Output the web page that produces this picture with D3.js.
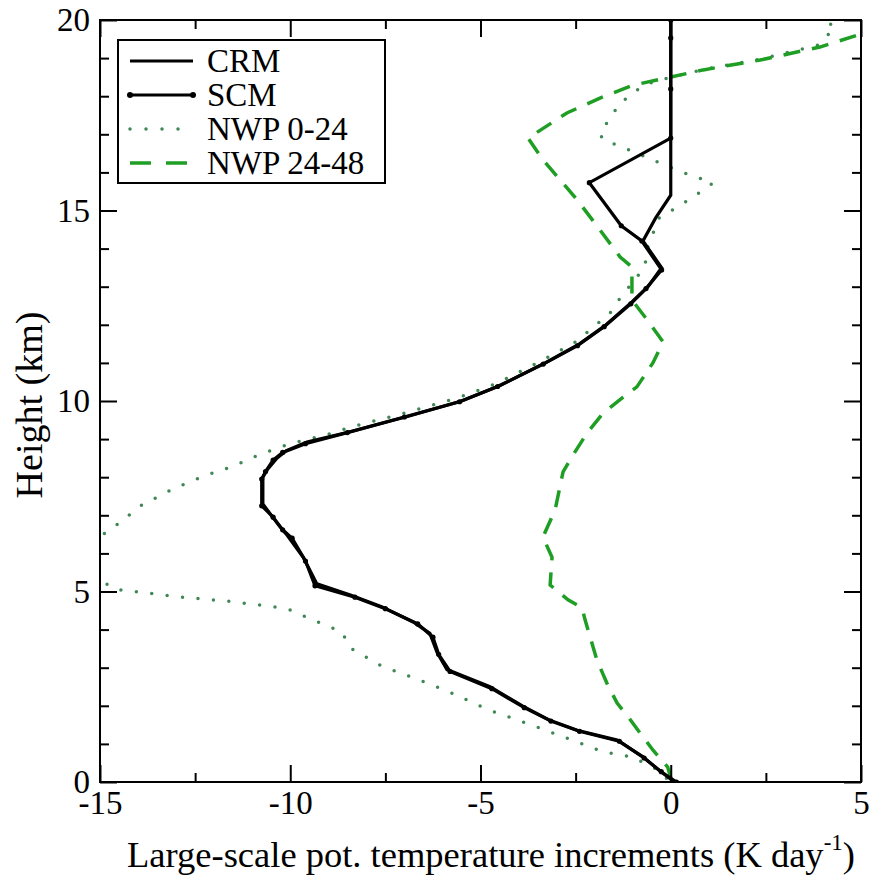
<!DOCTYPE html>
<html>
<head>
<meta charset="utf-8">
<script src="https://cdn.jsdelivr.net/npm/d3@7"></script>
<style>
  body { margin: 0; background: #fff; }
  svg { display: block; }
  text { font-family: 'Liberation Serif', 'Times New Roman', serif; fill: #000; }
  .domain { display: none; }
</style>
</head>
<body>
<svg width="873" height="879"></svg>
<script>
// profiles: [increment (K/day), height (km)]
var crm = [
  [0, 20], [0, 15.4], [-0.4, 14.8], [-0.73, 14.2], [-0.24, 13.5],
  [-0.6, 13.0], [-1.02, 12.6], [-1.7, 12.0], [-2.4, 11.5], [-3.3, 11.0],
  [-4.5, 10.4], [-5.5, 10.0], [-6.9, 9.6], [-8.4, 9.2], [-9.56, 8.92],
  [-10.1, 8.7], [-10.35, 8.5], [-10.6, 8.2], [-10.72, 8.0], [-10.72, 7.3],
  [-10.5, 7.0], [-10.27, 6.7], [-10.1, 6.5], [-9.66, 5.9], [-9.3, 5.2],
  [-8.4, 4.9], [-7.6, 4.6], [-6.77, 4.2], [-6.33, 3.9], [-6.14, 3.4],
  [-5.88, 2.95], [-4.75, 2.5], [-3.9, 2.0], [-3.2, 1.63], [-2.46, 1.36],
  [-1.41, 1.1], [-0.73, 0.66], [-0.3, 0.3], [0.1, 0]
];
var scm = [
  [0, 20], [0, 19.53], [0, 18.19], [0, 16.9], [-2.14, 15.73],
  [-1.3, 14.6], [-0.76, 14.2], [-0.24, 13.44], [-0.65, 12.95], [-1.05, 12.55],
  [-1.75, 11.95], [-2.45, 11.45], [-3.35, 10.97], [-4.55, 10.38], [-5.55, 9.98],
  [-7.0, 9.58], [-8.5, 9.17], [-9.6, 8.88], [-10.2, 8.65], [-10.45, 8.45],
  [-10.65, 8.15], [-10.75, 7.95], [-10.75, 7.25], [-10.45, 6.95], [-10.2, 6.62],
  [-9.95, 6.4], [-9.6, 5.8], [-9.35, 5.15], [-8.3, 4.85], [-7.5, 4.55],
  [-6.65, 4.15], [-6.25, 3.8], [-6.1, 3.35], [-5.8, 2.9], [-4.7, 2.45],
  [-3.85, 1.95], [-3.15, 1.6], [-2.4, 1.33], [-1.35, 1.07], [-0.7, 0.63],
  [-0.25, 0.27], [0.15, 0]
];
var nwp024 = [
  [3.5, 20.3], [4.32, 19.82], [3.9, 19.35], [2.35, 18.97], [0.85, 18.7],
  [-0.1, 18.47], [-0.7, 18.3], [-1.33, 17.82], [-1.86, 17.03], [-1.78, 16.85],
  [-1.33, 16.69], [-0.49, 16.33], [0.32, 16.0], [1.11, 15.72], [0.51, 15.3],
  [-0.31, 14.8], [-0.62, 14.0], [-0.68, 13.52], [-1.33, 12.7], [-1.6, 12.3],
  [-2.5, 11.55], [-3.5, 11.0], [-4.6, 10.45], [-5.6, 10.08], [-7.0, 9.68],
  [-8.4, 9.32], [-9.09, 9.1], [-9.93, 8.9], [-10.72, 8.63], [-11.5, 8.29],
  [-12.27, 8.03], [-13.08, 7.69], [-13.9, 7.27], [-14.66, 6.67], [-15.03, 6.43],
  [-15.6, 5.7], [-14.6, 5.05], [-14.16, 5.01], [-12.92, 4.86], [-11.69, 4.75],
  [-10.45, 4.6], [-10.06, 4.54], [-9.4, 4.25], [-8.64, 3.94], [-8.43, 3.52],
  [-7.59, 3.04], [-6.83, 2.76], [-5.88, 2.39], [-4.78, 1.89], [-3.59, 1.47],
  [-2.67, 1.13], [-1.78, 0.79], [-1.02, 0.66], [-0.4, 0.35], [0, 0]
];
var nwp2448 = [
  [5.6, 19.8], [4.9, 19.6], [3.92, 19.29], [2.35, 18.95], [0.85, 18.69],
  [-0.1, 18.48], [-0.99, 18.29], [-1.86, 17.95], [-2.73, 17.56], [-3.75, 16.9],
  [-3.36, 16.33], [-2.46, 15.28], [-1.86, 14.49], [-1.33, 13.78], [-1.02, 13.52],
  [-1.02, 12.65], [-0.62, 12.13], [-0.2, 11.55], [-0.47, 11.0], [-0.89, 10.37],
  [-1.25, 10.1], [-1.78, 9.68], [-2.2, 9.16], [-2.52, 8.66], [-2.83, 8.14],
  [-3.04, 7.14], [-3.36, 6.43], [-3.12, 5.9], [-3.17, 5.17], [-2.7, 4.78],
  [-2.33, 4.57], [-2.25, 4.25], [-1.94, 3.2], [-1.68, 2.6], [-1.41, 2.07],
  [-1.12, 1.71], [-0.81, 1.29], [-0.47, 0.84], [-0.08, 0.39], [0.03, 0]
];
var seriesNames = ['CRM', 'SCM', 'NWP 0-24', 'NWP 24-48'];
var xMajor = [-15, -10, -5, 0, 5];
var xMinor = [-12.5, -7.5, -2.5, 2.5];
var yMajor = [0, 5, 10, 15, 20];
var yMinor = [1, 2, 3, 4, 6, 7, 8, 9, 11, 12, 13, 14, 16, 17, 18, 19];

var svg = d3.select('svg');
var pL = 100, pR = 861, pT = 20, pB = 782;

var x = d3.scaleLinear().domain([-15, 5]).range([pL, pR]);
var y = d3.scaleLinear().domain([0, 20]).range([pB, pT]);

var green = '#1f9e24';
var dotGreen = '#3f8753';

svg.append('clipPath').attr('id', 'plot')
  .append('rect')
  .attr('x', pL).attr('y', pT)
  .attr('width', pR - pL).attr('height', pB - pT);

var line = d3.line().x(d => x(d[0])).y(d => y(d[1]));

var plot = svg.append('g').attr('clip-path', 'url(#plot)');

plot.append('path').datum(nwp024)
  .attr('d', line).attr('fill', 'none')
  .attr('stroke', dotGreen).attr('stroke-width', 3.5)
  .attr('stroke-linecap', 'round').attr('stroke-dasharray', '0,15.5');

plot.append('path').datum(nwp2448)
  .attr('d', line).attr('fill', 'none')
  .attr('stroke', green).attr('stroke-width', 3.5)
  .attr('stroke-dasharray', '17,12');

plot.append('path').datum(crm)
  .attr('d', line).attr('fill', 'none')
  .attr('stroke', '#000').attr('stroke-width', 3.2);

plot.append('path').datum(scm)
  .attr('d', line).attr('fill', 'none')
  .attr('stroke', '#000').attr('stroke-width', 3.2);

plot.selectAll('.scm-dot').data(scm).enter()
  .append('circle').attr('class', 'scm-dot')
  .attr('cx', d => x(d[0])).attr('cy', d => y(d[1]))
  .attr('r', 2.6).attr('fill', '#000');

// axes with inward ticks on all four sides
function styleAxis(g) {
  g.selectAll('.tick line').attr('stroke', '#000').attr('stroke-width', 2);
  g.selectAll('.tick text').attr('font-size', 33)
    .style('font-family', "'Liberation Serif', serif");
}

var fmt = d => String(d);

svg.append('g').attr('transform', `translate(0,${pB})`)
  .call(d3.axisBottom(x).tickValues(xMajor).tickFormat(fmt).tickSize(-17).tickPadding(9))
  .call(styleAxis);
svg.append('g').attr('transform', `translate(0,${pB})`)
  .call(d3.axisBottom(x).tickValues(xMinor).tickFormat('').tickSize(-9))
  .call(styleAxis);
svg.append('g').attr('transform', `translate(0,${pT})`)
  .call(d3.axisTop(x).tickValues(xMajor).tickFormat('').tickSize(-17))
  .call(styleAxis);
svg.append('g').attr('transform', `translate(0,${pT})`)
  .call(d3.axisTop(x).tickValues(xMinor).tickFormat('').tickSize(-9))
  .call(styleAxis);

svg.append('g').attr('transform', `translate(${pL},0)`)
  .call(d3.axisLeft(y).tickValues(yMajor).tickFormat(fmt).tickSize(-17).tickPadding(10))
  .call(styleAxis);
svg.append('g').attr('transform', `translate(${pL},0)`)
  .call(d3.axisLeft(y).tickValues(yMinor).tickFormat('').tickSize(-9))
  .call(styleAxis);
svg.append('g').attr('transform', `translate(${pR},0)`)
  .call(d3.axisRight(y).tickValues(yMajor).tickFormat('').tickSize(-17))
  .call(styleAxis);
svg.append('g').attr('transform', `translate(${pR},0)`)
  .call(d3.axisRight(y).tickValues(yMinor).tickFormat('').tickSize(-9))
  .call(styleAxis);

// frame
svg.append('rect')
  .attr('x', pL).attr('y', pT)
  .attr('width', pR - pL).attr('height', pB - pT)
  .attr('fill', 'none').attr('stroke', '#000').attr('stroke-width', 2);

// legend
var legend = svg.append('g').attr('transform', 'translate(118,40)');
legend.append('rect')
  .attr('width', 267).attr('height', 143)
  .attr('fill', '#fff').attr('stroke', '#000').attr('stroke-width', 2);

var rows = legend.selectAll('.row').data(seriesNames).enter()
  .append('g').attr('class', 'row')
  .attr('transform', (d, i) => `translate(0,${21 + i * 34})`);

rows.append('line')
  .attr('x1', 12).attr('x2', 75).attr('y1', 0).attr('y2', 0)
  .attr('stroke', (d, i) => i < 2 ? '#000' : (i === 2 ? dotGreen : green))
  .attr('stroke-width', (d, i) => i < 2 ? 3.2 : 3.5)
  .attr('stroke-linecap', (d, i) => i === 2 ? 'round' : 'butt')
  .attr('stroke-dasharray', (d, i) => i === 2 ? '0,16' : (i === 3 ? '21,15' : null));

rows.filter((d, i) => i === 1).selectAll('circle')
  .data([12, 75]).enter().append('circle')
  .attr('cx', d => d).attr('cy', 0).attr('r', 3).attr('fill', '#000');

rows.append('text')
  .attr('x', 89).attr('y', 11)
  .attr('font-size', 33)
  .text(d => d);

// axis titles
var xt = svg.append('text')
  .attr('x', 491).attr('y', 867)
  .attr('text-anchor', 'middle')
  .attr('font-size', 36.5);
xt.append('tspan').text('Large-scale pot. temperature increments (K day');
xt.append('tspan').attr('font-size', 23).attr('dy', -17).text('-1');
xt.append('tspan').attr('dy', 17).text(')');

svg.append('text')
  .attr('transform', 'translate(42,405) rotate(-90)')
  .attr('text-anchor', 'middle')
  .attr('font-size', 38)
  .text('Height (km)');
</script>
</body>
</html>
